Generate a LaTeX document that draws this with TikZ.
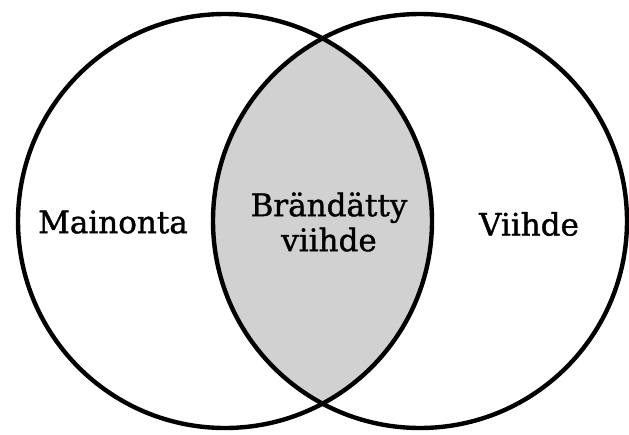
\documentclass[tikz,border=0pt]{standalone}
\usepackage{fontspec}
\setmainfont{DejaVu Serif}
\newfontfamily\lblfont[FakeBold=1.2]{DejaVu Serif}
\begin{document}
\begin{tikzpicture}[x=1pt,y=-1pt,
  ring/.style={circle,draw=black,line width=4.4pt,minimum size=414pt,inner sep=0pt},
  lbl/.style={font=\lblfont\fontsize{31}{35}\selectfont,align=center,inner sep=0pt}]
\definecolor{lensgray}{gray}{0.82}
\useasboundingbox (0,0) rectangle (629,434);
\begin{scope}
  \clip (225,221) circle (207pt);
  \fill[lensgray] (420,221) circle (207pt);
\end{scope}
\node[ring] (L) at (225,221) {};
\node[ring] (R) at (420,221) {};
\node[lbl] (m) at (113,222) {Mainonta};
\node[lbl] (b) at (329,222) {Brändätty\\viihde};
\node[lbl] (v) at (529,224) {Viihde};
\end{tikzpicture}
\end{document}
